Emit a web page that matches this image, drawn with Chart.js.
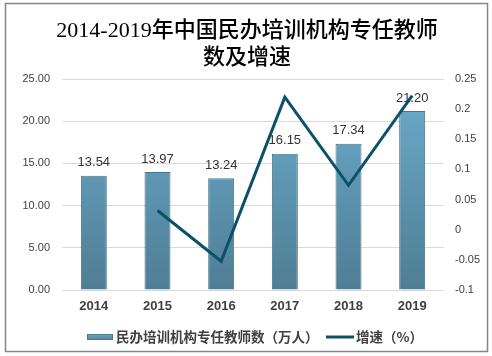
<!DOCTYPE html>
<html><head><meta charset="utf-8">
<script src="https://cdn.jsdelivr.net/npm/chart.js@4/dist/chart.umd.min.js"></script>
<style>html,body{margin:0;padding:0;background:#fff;}#wrap{position:relative;width:492px;height:356px;}</style>
</head><body><div id="wrap"><canvas id="c" width="492" height="356"></canvas></div>
<script>
const titleLines = ['2014-2019年中国民办培训机构专任教师', '数及增速'];
const categories = ['2014', '2015', '2016', '2017', '2018', '2019'];
const teachers = [13.54, 13.97, 13.24, 16.15, 17.34, 21.20];
const growth = [null, 0.0318, -0.0523, 0.2198, 0.0737, 0.2226];
const leftTicks = [0, 5, 10, 15, 20, 25];
const rightTicks = [-0.1, -0.05, 0, 0.05, 0.1, 0.15, 0.2, 0.25];
const seriesNames = ['民办培训机构专任教师数（万人）', '增速（%）'];

const LINE_COLOR = '#0c5069';
const TXT = '#404040';
const SANS = '"Liberation Sans", "Noto Sans CJK SC", sans-serif';
const CJK = '"Noto Sans CJK SC", "Liberation Sans", sans-serif';

function barGradient(ctx) {
  const chart = ctx.chart;
  const a = chart.chartArea;
  if (!a) return '#5f9ab6';
  const g = chart.ctx.createLinearGradient(0, a.top, 0, a.bottom);
  g.addColorStop(0, '#6cadcd');
  g.addColorStop(1, '#4f7d94');
  return g;
}

const decor = {
  id: 'decor',
  beforeDraw(chart) {
    const c = chart.ctx;
    c.save();
    c.fillStyle = '#fff';
    c.fillRect(0, 0, chart.width, chart.height);
    c.strokeStyle = '#858585';
    c.lineWidth = 1.5;
    c.strokeRect(5.5, 3.5, 482, 348);
    c.restore();
  },
  afterDraw(chart) {
    const c = chart.ctx;
    c.save();
    // title
    c.fillStyle = '#000';
    c.textAlign = 'center';
    c.textBaseline = 'middle';
    c.font = '500 22px "Liberation Serif", "Noto Sans CJK SC", serif';
    c.fillText(titleLines[0], 247, 31);
    c.fillText(titleLines[1], 247, 58);
    // data labels
    const meta = chart.getDatasetMeta(0);
    c.font = '13px ' + SANS;
    c.fillStyle = '#333';
    meta.data.forEach((bar, i) => {
      c.fillText(teachers[i].toFixed(2), bar.x, bar.y - 13);
    });
    // legend
    const ly = 337;
    const g = c.createLinearGradient(0, ly - 3, 0, ly + 3);
    g.addColorStop(0, '#6cadcd');
    g.addColorStop(1, '#4f7d94');
    c.fillStyle = g;
    c.fillRect(87, ly - 3, 26, 6);
    c.strokeStyle = '#4a7a90';
    c.lineWidth = 1;
    c.strokeRect(87.5, ly - 2.5, 25, 5);
    c.font = 'bold 13.5px ' + CJK;
    c.fillStyle = TXT;
    c.textAlign = 'left';
    c.fillText(seriesNames[0], 116, ly);
    c.strokeStyle = LINE_COLOR;
    c.lineWidth = 3;
    c.beginPath();
    c.moveTo(326, ly);
    c.lineTo(354, ly);
    c.stroke();
    c.fillText(seriesNames[1], 356, ly);
    c.restore();
  }
};

new Chart(document.getElementById('c'), {
  data: {
    labels: categories,
    datasets: [
      {
        type: 'bar',
        label: seriesNames[0],
        data: teachers,
        yAxisID: 'y',
        backgroundColor: barGradient,
        borderColor: '#44758c',
        borderWidth: 1,
        categoryPercentage: 0.8,
        barPercentage: 0.51,
        order: 2
      },
      {
        type: 'line',
        label: seriesNames[1],
        data: growth,
        yAxisID: 'y1',
        borderColor: LINE_COLOR,
        backgroundColor: LINE_COLOR,
        borderWidth: 3,
        pointRadius: 0,
        tension: 0,
        spanGaps: false,
        order: 1
      }
    ]
  },
  options: {
    responsive: false,
    animation: false,
    devicePixelRatio: 1,
    layout: { padding: { top: 79, bottom: 36, left: 0, right: 0 } },
    plugins: { legend: { display: false }, title: { display: false }, tooltip: { enabled: false } },
    scales: {
      x: {
        grid: { display: false, drawTicks: false },
        border: { display: false },
        ticks: { color: TXT, font: { family: SANS, size: 13, weight: 'bold' }, padding: 9 },
        afterFit(s) { s.height = 30; }
      },
      y: {
        position: 'left',
        min: 0, max: 25,
        afterBuildTicks(s) { s.ticks = leftTicks.map(v => ({ value: v })); },
        grid: { color: '#d9d9d9', lineWidth: 1, drawTicks: false },
        border: { display: false },
        ticks: { color: TXT, font: { family: SANS, size: 11 }, padding: 12, callback: v => Number(v).toFixed(2) },
        afterFit(s) { s.width = 62; }
      },
      y1: {
        position: 'right',
        min: -0.1, max: 0.25,
        afterBuildTicks(s) { s.ticks = rightTicks.map(v => ({ value: v })); },
        grid: { display: false, drawTicks: false },
        border: { display: false },
        ticks: { color: TXT, font: { family: SANS, size: 11 }, padding: 11, callback: v => String(parseFloat(Number(v).toFixed(2))) },
        afterFit(s) { s.width = 48; }
      }
    }
  },
  plugins: [decor]
});
</script>
</body></html>
